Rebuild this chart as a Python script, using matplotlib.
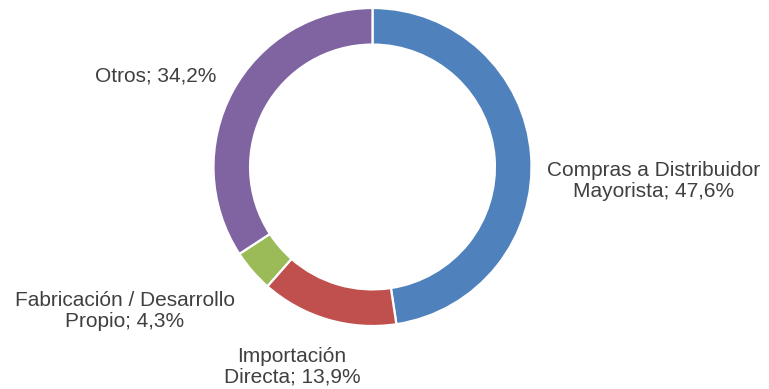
"""Donut chart: share of supply channels."""

import matplotlib
matplotlib.use("Agg")
import matplotlib.pyplot as plt

categories = ["Compras a Distribuidor\nMayorista", "Importación\nDirecta",
              "Fabricación / Desarrollo\nPropio", "Otros"]
shares = [47.6, 13.9, 4.3, 34.2]
colors = ["#4F81BD", "#C0504D", "#9BBB59", "#8064A2"]

W, H = 769, 389
fig = plt.figure(figsize=(W / 100, H / 100), dpi=100)
ax = fig.add_axes([0, 0, 1, 1])

cx, cy, r = 372.5, H - 167, 159
ax.pie(shares, colors=colors, startangle=90, counterclock=False,
       center=(cx, cy), radius=r, frame=True,
       wedgeprops=dict(width=r * 0.23, edgecolor="white", linewidth=1.6))
ax.set_xlim(0, W)
ax.set_ylim(0, H)
ax.set_aspect("equal")
ax.axis("off")

label_pos = [(654, H - 181), (292, H - 367), (125, H - 311), (156, H - 76)]
for name, val, (x, y) in zip(categories, shares, label_pos):
    txt = f"{name}; {val:.1f}%".replace(".", ",")
    ax.text(x, y, txt, ha="center", va="center", fontsize=15,
            family="Liberation Sans", color="#404040", linespacing=1.1)

fig.savefig("out.png", dpi=100)
